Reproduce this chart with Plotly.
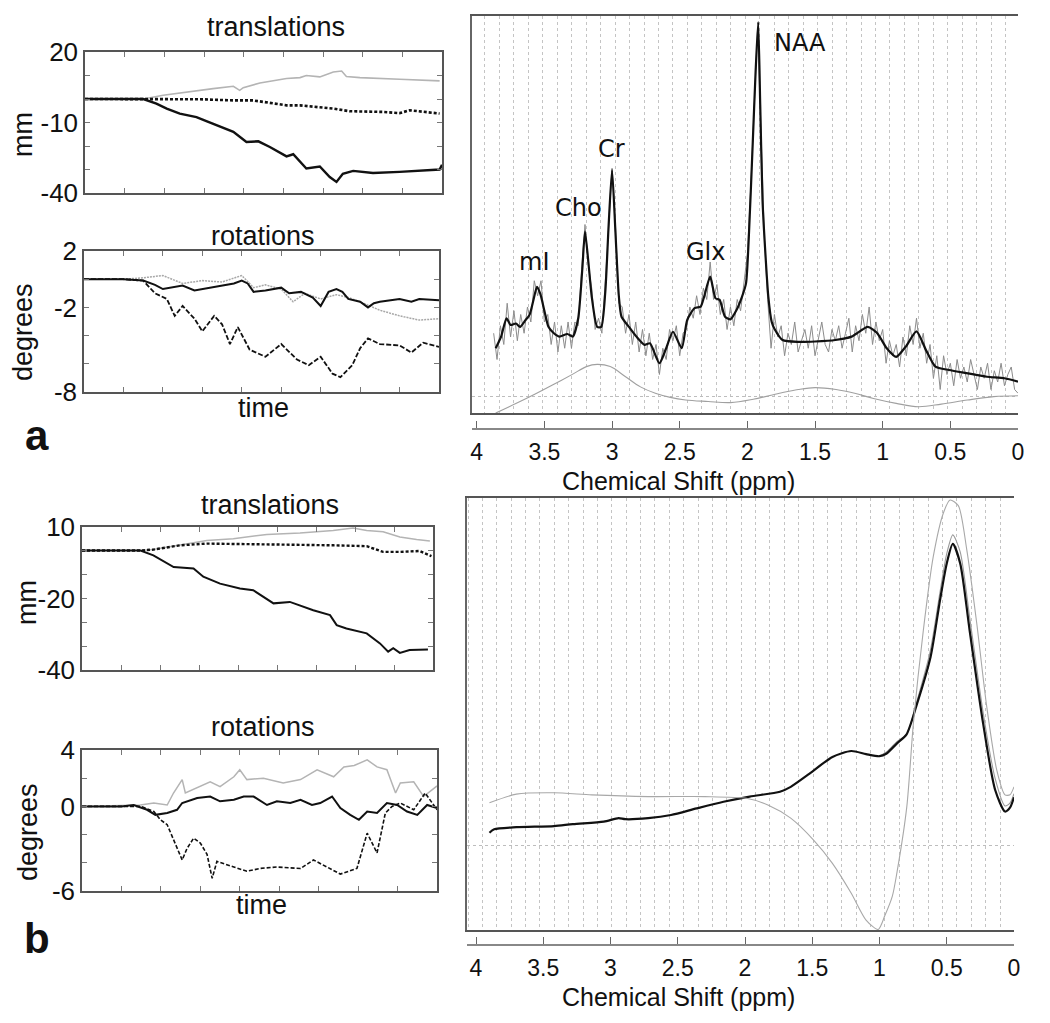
import numpy as np
import plotly.graph_objects as go

# page body has an 8px default margin: size the figure so the page fits the window
OFF = 8
W, H = 1034, 1007
def px(x): return (x - OFF) / W
def py(y): return 1 - (y - OFF) / H

# ---------------- motion traces (panel a) ----------------
TA_BLACK_T = [0, 1.47, 1.8, 2.06, 2.39, 2.81, 3.06, 3.4, 3.74, 4.07, 4.37, 4.66, 5.08, 5.25, 5.58, 5.92, 6.17, 6.34, 6.5, 6.76, 7.26, 7.93, 8.94, 9.0]
TA_BLACK_V = [0, 0, -2, -4.1, -6.2, -7.7, -9.4, -11.6, -14, -18.3, -18, -20.4, -24.4, -23.5, -29.6, -28.7, -33.2, -35.3, -31.8, -30.6, -31.5, -31, -30, -28]
TA_DOT_T = [0, 1.47, 2.9, 3.74, 4.24, 5.08, 5.42, 6.26, 6.67, 7.51, 7.93, 8.19, 8.94]
TA_DOT_V = [0, 0, -0.1, -0.6, -0.6, -2.7, -2.7, -4.1, -5.2, -5.5, -6.0, -4.8, -6.2]
TA_GRAY_T = [0, 1.47, 1.97, 2.56, 3.23, 3.74, 3.9, 3.99, 4.41, 5.08, 5.42, 5.58, 5.92, 6.26, 6.47, 6.59, 6.93, 7.93, 8.94]
TA_GRAY_V = [0, 0, 1.6, 3.0, 4.4, 5.4, 3.7, 4.8, 6.8, 8.7, 9.1, 10, 9.4, 11.5, 11.9, 9.6, 9.1, 8.4, 7.7]

RA_BLACK_T = [0, 1.0, 1.5, 1.8, 2.0, 2.2, 2.5, 2.8, 3.0, 3.3, 3.5, 3.8, 4.0, 4.15, 4.3, 4.6, 5.0, 5.2, 5.5, 5.8, 6.0, 6.2, 6.4, 6.55, 6.7, 7.0, 7.2, 7.35, 7.5, 8.0, 8.3, 8.5, 9.0]
RA_BLACK_V = [0, 0, -0.1, -0.4, -0.7, -0.6, -0.45, -0.8, -0.7, -0.5, -0.45, -0.3, -0.1, -0.3, -0.9, -0.8, -0.6, -1.0, -0.9, -1.3, -1.9, -0.9, -0.7, -0.9, -1.4, -1.6, -2.0, -1.7, -1.6, -1.4, -1.6, -1.4, -1.5]
RA_GRAY_T = [0, 1.0, 1.5, 2.0, 2.5, 3.0, 3.5, 4.0, 4.3, 4.6, 5.0, 5.3, 5.6, 6.0, 6.4, 6.7, 7.0, 7.5, 8.0, 8.5, 9.0]
RA_GRAY_V = [0, 0, 0.1, 0.26, -0.3, -0.1, -0.2, 0.26, -0.6, -0.4, -0.7, -1.6, -1.0, -1.4, -1.1, -1.3, -1.6, -2.2, -2.6, -2.9, -2.8]
RA_DASH_T = [0, 1.0, 1.5, 1.8, 2.1, 2.3, 2.5, 2.8, 3.0, 3.3, 3.5, 3.7, 3.9, 4.2, 4.6, 5.0, 5.4, 5.7, 6.0, 6.3, 6.5, 6.8, 7.0, 7.2, 7.5, 8.0, 8.3, 8.6, 9.0]
RA_DASH_V = [0, 0, -0.1, -1.0, -1.4, -2.6, -1.9, -2.8, -3.7, -2.6, -3.2, -4.6, -3.4, -5.0, -5.5, -4.6, -5.7, -6.1, -5.5, -6.7, -6.95, -6.1, -4.9, -4.2, -4.6, -4.7, -5.2, -4.5, -4.8]

# ---------------- motion traces (panel b) ----------------
TB_BLACK_T = [0, 1.5, 1.83, 2.35, 2.86, 3.11, 3.54, 4.05, 4.39, 4.91, 5.33, 5.93, 6.36, 6.53, 6.78, 7.3, 7.64, 7.85, 7.98, 8.15, 8.4, 8.87]
TB_BLACK_V = [1.8, 1.8, 0.1, -4, -4.5, -7.4, -9.8, -11.5, -12.1, -16.7, -16.2, -19.1, -20.8, -24.3, -25.5, -27.2, -30.7, -33.6, -32.4, -34, -33, -32.8]
TB_DOT_T = [0, 1.5, 1.83, 2.52, 3.2, 4.74, 6.44, 7.3, 7.72, 8.15, 8.66, 8.96]
TB_DOT_V = [1.8, 1.8, 2.1, 3.6, 4.2, 4.0, 3.6, 3.3, 1.3, 1.3, 1.6, -0.2]
TB_GRAY_T = [0, 1.5, 1.83, 2.69, 3.2, 3.88, 4.74, 5.59, 6.44, 6.95, 7.3, 7.72, 8.15, 8.58, 8.92]
TB_GRAY_V = [1.8, 1.8, 2.1, 4.2, 5.3, 5.9, 7.4, 7.9, 8.8, 9.65, 8.8, 8.3, 6.5, 5.6, 5.1]

RB_BLACK_T = [0, 1.0, 1.31, 1.65, 1.86, 2.16, 2.41, 2.54, 2.92, 3.25, 3.5, 3.85, 4.1, 4.35, 4.69, 4.94, 5.28, 5.54, 5.83, 6.04, 6.34, 6.55, 6.8, 7.02, 7.23, 7.48, 7.73, 7.99, 8.24, 8.5, 8.75, 9.0]
RB_BLACK_V = [0, 0, 0.1, -0.24, -0.6, -0.47, -0.24, 0.24, 0.6, 0.7, 0.36, 0.47, 0.7, 0.7, 0.1, 0.36, 0.24, 0.47, 0.1, 0.24, 0.7, -0.12, -0.6, -0.95, -0.36, -0.47, 0.24, 0.1, -0.36, -0.6, 0.1, -0.12]
RB_GRAY_T = [0, 1.48, 1.82, 2.16, 2.32, 2.54, 2.62, 3.0, 3.25, 3.5, 3.85, 4.0, 4.18, 4.6, 5.1, 5.54, 5.96, 6.38, 6.64, 6.9, 7.23, 7.48, 7.73, 7.95, 8.07, 8.41, 8.66, 9.0]
RB_GRAY_V = [0, 0.1, 0.24, 0.1, 0.95, 1.9, 0.95, 1.4, 1.75, 1.4, 2.1, 2.6, 1.9, 2.0, 1.66, 1.9, 2.6, 2.1, 2.8, 2.9, 3.3, 2.8, 2.6, 0.95, 1.66, 1.75, 0.7, 1.45]
RB_DASH_T = [0, 1.5, 1.82, 1.99, 2.16, 2.32, 2.54, 2.66, 2.83, 3.0, 3.17, 3.3, 3.42, 3.85, 4.18, 4.52, 4.94, 5.54, 5.87, 6.21, 6.55, 6.97, 7.23, 7.48, 7.69, 7.86, 8.07, 8.41, 8.7, 9.0]
RB_DASH_V = [0, 0, -0.36, -0.95, -1.3, -2.37, -3.8, -3.0, -2.25, -2.6, -3.4, -5.1, -3.9, -4.3, -4.6, -4.4, -4.3, -4.4, -3.8, -4.3, -4.8, -4.4, -1.9, -3.3, -0.47, 0.0, 0.24, -0.24, 0.95, -0.24]

# ---------------- spectrum a ----------------
SA_FIT_PPM = [3.86, 3.82, 3.78, 3.75, 3.71, 3.68, 3.64, 3.61, 3.58, 3.555, 3.53, 3.50, 3.47, 3.43, 3.39, 3.33, 3.29, 3.25, 3.22, 3.20, 3.175, 3.15, 3.11, 3.08, 3.05, 3.025, 3.0, 2.975, 2.95, 2.93, 2.875, 2.82, 2.76, 2.72, 2.65, 2.60, 2.55, 2.485, 2.445, 2.39, 2.345, 2.32, 2.275, 2.235, 2.205, 2.165, 2.125, 2.08, 2.04, 2.01, 1.99, 1.96, 1.94, 1.92, 1.905, 1.888, 1.868, 1.845, 1.82, 1.80, 1.74, 1.62, 1.50, 1.35, 1.23, 1.11, 1.04, 0.97, 0.90, 0.83, 0.75, 0.68, 0.61, 0.51, 0.37, 0.23, 0.10, 0.0]
SA_FIT_VAL = [13.0, 16.1, 21, 19.2, 19.6, 18.7, 20.5, 21.9, 26, 29.4, 27.5, 23, 18.7, 17, 16.1, 16.8, 16.1, 21, 34, 44.1, 36, 26.7, 18.7, 18.7, 28, 46, 60.5, 44, 27, 21.4, 18.7, 16.1, 13.9, 14.3, 9.0, 13.0, 17.4, 13.0, 20.5, 23.7, 24.1, 26.7, 32.1, 26.3, 25.9, 21.4, 20.7, 23.2, 26.7, 30.3, 42, 68, 86, 100, 78, 52.5, 39, 26.7, 20, 18.2, 15.2, 14.7, 14.8, 15.2, 16.1, 18.7, 17, 13, 10.7, 13.4, 17.5, 12.5, 8.1, 7.2, 6.3, 5.4, 5.0, 4.1]
SA_DATA_START, SA_DATA_STEP = 3.875, 0.025
SA_DATA_VAL = [17, 10, 19, 14, 25, 16, 23, 15, 22, 17, 24, 20, 31, 27, 31, 20, 22, 14, 20, 12,
               19, 13, 20, 13, 20, 19, 34, 46, 35, 29, 18, 21, 17, 30, 45, 61, 46, 25, 24, 17,
               22, 14, 20, 12, 18, 11, 17, 10, 14, 6, 13, 10, 18, 15, 19, 11, 17, 18, 24, 21,
               27, 22, 29, 26, 36, 26, 30, 22, 26, 18, 24, 19, 26, 23, 31, 38, 56, 78, 98, 72,
               43, 26, 13, 22, 16, 19, 11, 17, 14, 20, 12, 15, 18, 13, 19, 11, 16, 20, 14, 12,
               18, 15, 19, 13, 17, 21, 12, 19, 15, 22, 17, 24, 14, 20, 15, 18, 9, 15, 11, 14,
               8, 16, 11, 19, 14, 21, 13, 17, 9, 14, 5, 11, 2, 11, 6, 9, 3, 10, 5, 8,
               4, 10, 6, 2, 8, 5, 9, 2, 7, 4, 9, 3, 6, 8, 2, 1]
SA_BASE_PPM = [3.86, 3.707, 3.568, 3.43, 3.29, 3.19, 3.11, 3.013, 2.90, 2.79, 2.68, 2.57, 2.457, 2.29, 2.124, 1.957, 1.763, 1.624, 1.50, 1.345, 1.207, 1.068, 0.90, 0.735, 0.567, 0.373, 0.179, 0.0]
SA_BASE_VAL = [-4.3, -1.7, 0.8, 3.4, 6.1, 8.1, 8.7, 8.1, 5.4, 2.7, 1.0, -0.1, -0.8, -1.2, -1.5, -0.6, 1.0, 2.0, 2.5, 2.0, 1.0, -0.4, -1.7, -2.6, -1.9, -0.8, 0.1, 0.35]

# ---------------- spectrum b ----------------
SB_FIT_PPM = [3.90, 3.865, 3.70, 3.42, 3.28, 3.05, 2.94, 2.89, 2.72, 2.55, 2.36, 2.16, 1.965, 1.74, 1.66, 1.52, 1.35, 1.21, 1.10, 1.0, 0.95, 0.87, 0.80, 0.72, 0.62, 0.55, 0.50, 0.455, 0.40, 0.33, 0.23, 0.14, 0.067, 0.03, 0.0]
SB_FIT_VAL = [3.8, 4.8, 5.4, 5.7, 6.3, 7.0, 8.0, 7.7, 8.0, 8.9, 10.8, 12.7, 14.2, 15.6, 17.0, 20.8, 25.6, 27.3, 26.4, 25.8, 26.5, 29.5, 32, 41, 54.4, 70.7, 81.2, 86.8, 81.2, 62, 35.3, 16.1, 9.9, 11.0, 14.0]
SB_DATA_PPM = [1.0, 0.946, 0.871, 0.797, 0.723, 0.624, 0.55, 0.50, 0.455, 0.40, 0.327, 0.228, 0.141, 0.067, 0.03, 0.0]
SB_DATA_VAL = [25.8, 27.1, 30, 32.2, 41.5, 55.8, 73, 84, 89.4, 84.5, 65, 38, 19.5, 11.5, 12.3, 15.0]
SB_BASE_PPM = [3.90, 3.70, 3.42, 3.14, 2.72, 2.30, 1.99, 1.83, 1.66, 1.49, 1.35, 1.21, 1.10, 1.01, 0.96, 0.905, 0.871, 0.797, 0.748, 0.674, 0.60, 0.525, 0.475, 0.414, 0.351, 0.277, 0.203, 0.128, 0.067, 0.03, 0.0]
SB_BASE_VAL = [12.4, 14.9, 15.3, 14.7, 14.2, 14.2, 13.7, 11.8, 8.0, 1.7, -5.0, -13.6, -21.3, -24.0, -20, -14.5, -7.8, 11.3, 35.3, 62, 83.2, 95.7, 99.4, 97.8, 85.1, 64, 40.1, 21.8, 14.7, 14.7, 17]

PPM_TICKS = [4, 3.5, 3, 2.5, 2, 1.5, 1, 0.5, 0]
PPM_TEXT = ["4", "3.5", "3", "2.5", "2", "1.5", "1", "0.5", "0"]

NARROW = "Liberation Sans Narrow, Liberation Sans, Arial, sans-serif"
SANS = "Liberation Sans, Arial, Helvetica, sans-serif"
DEJA = "DejaVu Sans, Verdana, sans-serif"

BLACK = "#111111"
GRAY = "#b4b4b4"

fig = go.Figure()

def motion(xa, ya, t, v, color, width, dash):
    fig.add_trace(go.Scatter(x=t, y=v, mode="lines", xaxis=xa, yaxis=ya,
                             line=dict(color=color, width=width, dash=dash),
                             showlegend=False, hoverinfo="skip"))

# translations a
motion("x", "y", TA_GRAY_T, TA_GRAY_V, GRAY, 1.6, "solid")
motion("x", "y", TA_DOT_T, TA_DOT_V, BLACK, 2.6, "3px,2px")
motion("x", "y", TA_BLACK_T, TA_BLACK_V, BLACK, 2.4, "solid")
# rotations a
motion("x2", "y2", RA_GRAY_T, RA_GRAY_V, "#a8a8a8", 1.5, "2px,1px")
motion("x2", "y2", RA_DASH_T, RA_DASH_V, BLACK, 1.8, "5px,2px")
motion("x2", "y2", RA_BLACK_T, RA_BLACK_V, BLACK, 2.0, "solid")
# translations b
motion("x3", "y3", TB_GRAY_T, TB_GRAY_V, GRAY, 1.5, "solid")
motion("x3", "y3", TB_DOT_T, TB_DOT_V, BLACK, 2.4, "3px,2px")
motion("x3", "y3", TB_BLACK_T, TB_BLACK_V, BLACK, 2.0, "solid")
# rotations b
motion("x4", "y4", RB_GRAY_T, RB_GRAY_V, GRAY, 1.5, "solid")
motion("x4", "y4", RB_DASH_T, RB_DASH_V, BLACK, 1.6, "4px,2px")
motion("x4", "y4", RB_BLACK_T, RB_BLACK_V, BLACK, 2.0, "solid")

# spectrum a
sa_data_ppm = SA_DATA_START - SA_DATA_STEP * np.arange(len(SA_DATA_VAL))
fig.add_trace(go.Scatter(x=sa_data_ppm, y=SA_DATA_VAL, mode="lines", xaxis="x5", yaxis="y5",
                         line=dict(color="#8c8c8c", width=1), showlegend=False, hoverinfo="skip"))
fig.add_trace(go.Scatter(x=SA_FIT_PPM, y=SA_FIT_VAL, mode="lines", xaxis="x5", yaxis="y5",
                         line=dict(color=BLACK, width=2.2, shape="spline", smoothing=0.6),
                         showlegend=False, hoverinfo="skip"))
fig.add_trace(go.Scatter(x=SA_BASE_PPM, y=SA_BASE_VAL, mode="lines", xaxis="x7", yaxis="y5",
                         line=dict(color="#a0a0a0", width=1.1, shape="spline"),
                         showlegend=False, hoverinfo="skip"))
# spectrum b
fig.add_trace(go.Scatter(x=SB_BASE_PPM, y=SB_BASE_VAL, mode="lines", xaxis="x8", yaxis="y6",
                         line=dict(color="#a8a8a8", width=1.1, shape="spline", smoothing=0.7),
                         showlegend=False, hoverinfo="skip"))
fig.add_trace(go.Scatter(x=SB_DATA_PPM, y=SB_DATA_VAL, mode="lines", xaxis="x6", yaxis="y6",
                         line=dict(color="#9a9a9a", width=1.1, shape="spline", smoothing=0.7),
                         showlegend=False, hoverinfo="skip"))
fig.add_trace(go.Scatter(x=SB_FIT_PPM, y=SB_FIT_VAL, mode="lines", xaxis="x6", yaxis="y6",
                         line=dict(color=BLACK, width=2.2, shape="spline", smoothing=0.7),
                         showlegend=False, hoverinfo="skip"))

def left_x(x0, x1, anchor):
    return dict(domain=[px(x0), px(x1)], range=[0, 9], anchor=anchor, automargin=False,
                tickvals=[1, 2, 3, 4, 5, 6, 7, 8], ticks="inside", ticklen=5, tickcolor="#777",
                showticklabels=False, showline=True, linecolor="#555", linewidth=1.5,
                mirror="ticks", showgrid=False, zeroline=False)

def left_y(y0, y1, anchor, rng, vals, text):
    return dict(domain=[py(y1), py(y0)], range=rng, anchor=anchor, automargin=False,
                tickvals=vals, ticktext=text, ticks="inside", ticklen=5, tickcolor="#777",
                tickfont=dict(family=SANS, size=26, color="#111"),
                showline=True, linecolor="#555", linewidth=1.5, mirror="ticks",
                showgrid=False, zeroline=False)

tb_vals = [10 - k * 50 / 6 for k in range(7)]
fig.update_layout(
    xaxis=left_x(85, 442, "y"),
    yaxis=left_y(52, 193, "x", [-40, 20], [20, 10, 0, -10, -20, -30, -40], ["20", "", "", "-10", "", "", "-40"]),
    xaxis2=left_x(84, 439, "y2"),
    yaxis2=left_y(251, 392, "x2", [-8, 2], [2, 0, -2, -4, -6, -8], ["2", "", "-2", "", "", "-8"]),
    xaxis3=left_x(82, 433, "y3"),
    yaxis3=left_y(527, 670, "x3", [-40, 10], tb_vals, ["10", "", "", "-20", "", "", "-40"]),
    xaxis4=left_x(82, 437, "y4"),
    yaxis4=left_y(750, 891, "x4", [-6, 4], [4, 2, 0, -2, -4, -6], ["4", "", "0", "", "", "-6"]),
)

def spec_x(x0, x1, anchor, left_ppm, tick0):
    return dict(domain=[px(x0), px(x1)], range=[left_ppm, 0], anchor=anchor, automargin=False,
                tick0=tick0, dtick=0.1069, ticks="", showticklabels=False,
                showgrid=True, griddash="dot", gridcolor="#c4c4c4", gridwidth=1,
                showline=True, linecolor="#555", linewidth=1.5, mirror=True, zeroline=False)

def spec_y(y0, y1, anchor, rng):
    return dict(domain=[py(y1), py(y0)], range=rng, anchor=anchor, automargin=False,
                tickvals=[0], ticks="", showticklabels=False,
                showgrid=True, griddash="dot", gridcolor="#bdbdbd", gridwidth=1,
                showline=True, linecolor="#666", linewidth=1.5, zeroline=False)

def tick_x(over, left_ppm, ypix):
    return dict(overlaying=over, anchor="free", position=py(ypix), side="bottom", automargin=False,
                range=[left_ppm, 0], tickvals=PPM_TICKS, ticktext=PPM_TEXT,
                ticks="inside", ticklen=7, tickcolor="#666",
                tickfont=dict(family=SANS, size=23, color="#111"), ticklabelstandoff=3,
                showline=True, linecolor="#888", linewidth=1.5, showgrid=False, zeroline=False)

fig.update_layout(
    xaxis5=spec_x(472, 1018, "y5", 4.035, 0.091),
    yaxis5=spec_y(16, 413, "x5", [-4.27, 101.6]),
    xaxis6=spec_x(467, 1014, "y6", 4.067, 0.104),
    yaxis6=spec_y(498, 930, "x6", [-24.14, 100]),
    xaxis7=tick_x("x5", 4.035, 429),
    xaxis8=tick_x("x6", 4.067, 945),
)

ann = []
def text(x, y, s, size, family=NARROW, angle=0, bold=False):
    ann.append(dict(x=px(x), y=py(y), xref="paper", yref="paper", text=("<b>%s</b>" % s) if bold else s,
                    showarrow=False, textangle=angle, xanchor="center", yanchor="middle",
                    font=dict(family=family, size=size, color="#111")))

text(276, 27, "translations", 27)
text(263, 236, "rotations", 27)
text(263, 408, "time", 27)
text(270, 505, "translations", 27)
text(263, 727, "rotations", 27)
text(262, 905, "time", 27)
text(23, 135, "mm", 27, angle=-90)
text(23, 332, "degrees", 27, angle=-90)
text(27, 603, "mm", 27, angle=-90)
text(28, 832, "degrees", 27, angle=-90)
text(37, 435, "a", 42, family=SANS, bold=True)
text(37, 938, "b", 42, family=SANS, bold=True)
text(678, 481, "Chemical Shift (ppm)", 25, family=SANS)
text(678, 997, "Chemical Shift (ppm)", 25, family=SANS)
text(534, 262, "mI", 24, family=DEJA)
text(578, 208, "Cho", 24, family=DEJA)
text(611, 149, "Cr", 24, family=DEJA)
text(705, 252, "Glx", 24, family=DEJA)
text(800, 43, "NAA", 24, family=DEJA)

fig.update_layout(width=W, height=H, margin=dict(l=0, r=0, t=0, b=0, pad=0, autoexpand=False),
                  paper_bgcolor="white", plot_bgcolor="white", annotations=ann,
                  showlegend=False)

fig.write_html("out.html")
